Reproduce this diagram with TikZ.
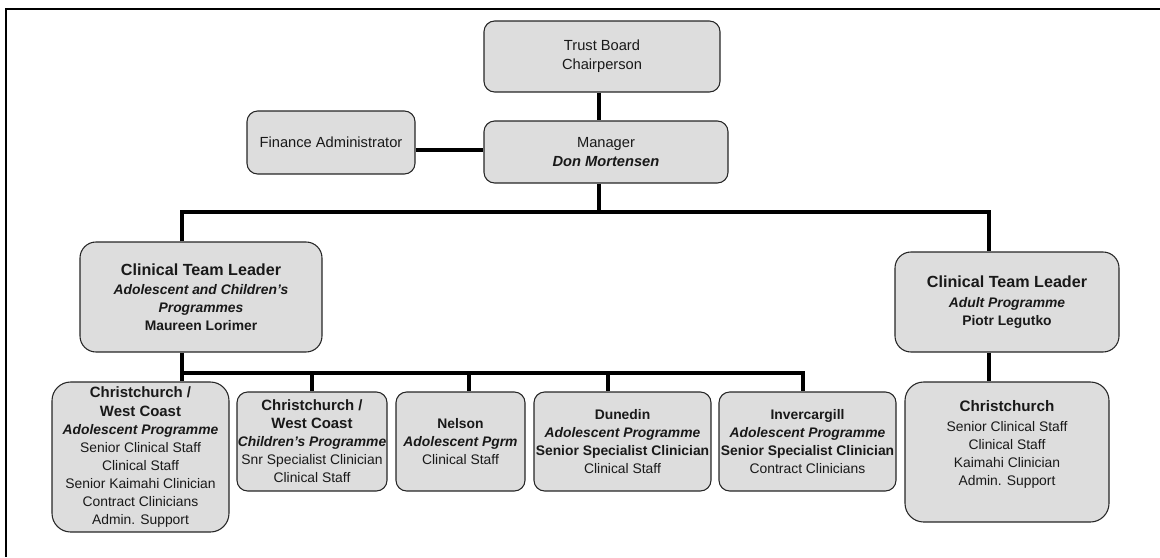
\documentclass[tikz,border=0pt]{standalone}
\usepackage{fontspec}
\setmainfont{Liberation Sans}
\definecolor{boxgray}{RGB}{221,221,221}
\newcommand{\boxhead}[1]{{\fontsize{11.2}{13.5}\selectfont\bfseries #1}}
\newcommand{\prog}[1]{{\bfseries\itshape #1}}

\begin{document}
\begin{tikzpicture}[x=0.75pt, y=-0.75pt,
    orgbox/.style={draw=black!85, line width=0.8pt, fill=boxgray, rounded corners=8pt,
        inner sep=0pt, align=center, text=black!90, font=\fontsize{10.4}{13.5}\selectfont},
    topbox/.style={orgbox, font=\fontsize{11}{14.5}\selectfont},
    link/.style={line width=2.3pt}]
    \useasboundingbox (0,0) rectangle (1160,557);
    \draw[line width=1.5pt] (1160,9) -- (6,9) -- (6,557);

    \node[topbox, minimum width=177pt, minimum height=53.25pt] (trust) at (602,56.5) {Trust Board\\Chairperson};
    \node[topbox, minimum width=183pt, minimum height=46.5pt] (manager) at (606,152) {Manager\\\prog{Don Mortensen}};
    \node[topbox, minimum width=126pt, minimum height=47.25pt] (finance) at (331,142.5) {Finance Administrator};

    \node[orgbox, rounded corners=12pt, minimum width=181.5pt, minimum height=82.5pt] (ctlA) at (201,297)
        {{\fontsize{12.1}{15}\selectfont\bfseries Clinical Team Leader}\\[1pt]\prog{Adolescent and Children's}\\\prog{Programmes}\\\textbf{Maureen Lorimer}};
    \node[orgbox, rounded corners=12pt, minimum width=168pt, minimum height=75pt] (ctlB) at (1007,302)
        {{\fontsize{12.1}{15}\selectfont\bfseries Clinical Team Leader}\\[1pt]\prog{Adult Programme}\\\textbf{Piotr Legutko}};

    \node[orgbox, rounded corners=14pt, minimum width=132.75pt, minimum height=112.5pt] (cwa) at (140.5,457)
        {\boxhead{Christchurch /}\\[1pt]\boxhead{West Coast}\\\prog{Adolescent Programme}\\Senior Clinical Staff\\Clinical Staff\\Senior Kaimahi Clinician\\Contract Clinicians\\Admin. Support};
    \node[orgbox, minimum width=112.5pt, minimum height=74.25pt] (cwc) at (312,441.5)
        {\boxhead{Christchurch /}\\\boxhead{West Coast}\\\prog{Children's Programme}\\Snr Specialist Clinician\\Clinical Staff};
    \node[orgbox, minimum width=96.75pt, minimum height=74.25pt] (nel) at (460.5,441.5)
        {\textbf{Nelson}\\\prog{Adolescent Pgrm}\\Clinical Staff};
    \node[orgbox, minimum width=132.75pt, minimum height=74.25pt] (dun) at (622.5,441.5)
        {\textbf{Dunedin}\\\prog{Adolescent Programme}\\\textbf{Senior Specialist Clinician}\\Clinical Staff};
    \node[orgbox, minimum width=132.75pt, minimum height=74.25pt] (inv) at (807.5,441.5)
        {\textbf{Invercargill}\\\prog{Adolescent Programme}\\\textbf{Senior Specialist Clinician}\\Contract Clinicians};
    \node[orgbox, rounded corners=14pt, minimum width=153pt, minimum height=105pt] (chc) at (1007,452)
        {{\fontsize{11.4}{14}\selectfont\bfseries Christchurch}\\[1pt]Senior Clinical Staff\\Clinical Staff\\Kaimahi Clinician\\Admin. Support\\\mbox{}};

    \coordinate (trunk) at (599,212);
    \coordinate (busL) at (182,212);
    \coordinate (busR) at (989,212);
    \coordinate (subL) at (182,373);
    \foreach \x/\n in {312/cwc, 469/nel, 608/dun, 803/inv}
        \coordinate (d\n) at (\x,373);

    \draw[link] (trust.south -| trunk) -- (manager.north -| trunk);
    \draw[link] ([yshift=-5.6pt]finance.east) -- ([yshift=-5.6pt]finance.east -| manager.west);
    \draw[link] (manager.south -| trunk) -- (trunk);
    \draw[link] (ctlA.north -| busL) -- (busL) -- (busR) -- (ctlB.north -| busR);
    \draw[link] (ctlB.south -| busR) -- (chc.north -| busR);
    \draw[link] (ctlA.south -| subL) -- (cwa.north -| subL);
    \draw[link] (subL) -- (dinv) -- (inv.north -| dinv);
    \foreach \n in {cwc, nel, dun}
        \draw[link] (d\n) -- (\n.north -| d\n);
\end{tikzpicture}
\end{document}
